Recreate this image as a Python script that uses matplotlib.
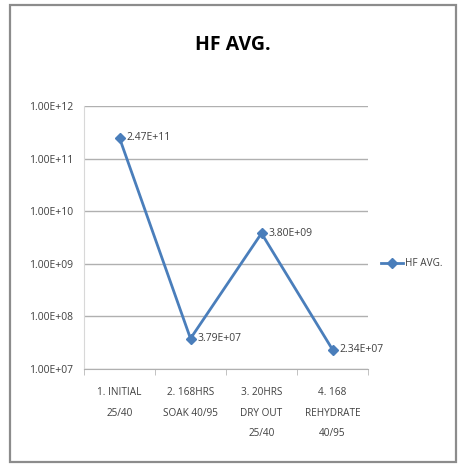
import matplotlib.pyplot as plt
from matplotlib.patches import Rectangle
from matplotlib.ticker import FixedLocator, NullLocator

# HF average per test stage
stages = ["1. INITIAL\n25/40", "2. 168HRS\nSOAK 40/95", "3. 20HRS\nDRY OUT\n25/40", "4. 168\nREHYDRATE\n40/95"]
hf_avg = [2.47e11, 3.79e7, 3.80e9, 2.34e7]
y_ticks = [1e7, 1e8, 1e9, 1e10, 1e11, 1e12]
y_tick_labels = ["1.00E+07", "1.00E+08", "1.00E+09", "1.00E+10", "1.00E+11", "1.00E+12"]

plt.rcParams['font.family'] = ['Open Sans', 'DejaVu Sans']
line_color = '#4A7EBB'
text_color = '#404040'

fig = plt.figure(figsize=(4.66, 4.66), dpi=100)
fig.patch.set_facecolor('white')

# chart border
fig.patches.append(Rectangle((10 / 466, 1 - 462 / 466), 446 / 466, 457 / 466,
                             transform=fig.transFigure, fill=False,
                             edgecolor='#8c8c8c', linewidth=1.6))

ax = fig.add_axes([84 / 466, 1 - 369 / 466, 284 / 466, 263 / 466])
x = list(range(len(stages)))
ax.plot(x, hf_avg, color=line_color, linewidth=2, marker='D', markersize=5,
        label='HF AVG.')

for xi, v in zip(x, hf_avg):
    ax.annotate(f"{v:.2E}", (xi, v), xytext=(5, 0), textcoords='offset points',
                va='center', ha='left', fontsize=7.5, color=text_color)

ax.set_yscale('log')
ax.set_ylim(1e7, 1e12)
ax.yaxis.set_major_locator(FixedLocator(y_ticks))
ax.yaxis.set_minor_locator(NullLocator())
ax.set_yticks(y_ticks)
ax.set_yticklabels(y_tick_labels, fontsize=7.5, color=text_color)
ax.tick_params(axis='y', length=0, pad=8)

ax.set_xlim(-0.5, len(stages) - 0.5)
ax.set_xticks(x)
ax.set_xticklabels(stages, fontsize=7.2, color=text_color, linespacing=2.2)
ax.tick_params(axis='x', length=0, pad=13)
ax.set_xticks([i + 0.5 for i in range(-1, len(stages))], minor=True)
ax.tick_params(axis='x', which='minor', length=4, color='#b8b8b8', direction='out')

ax.grid(axis='y', color='#b0b0b0', linewidth=1)
for side in ['top', 'right']:
    ax.spines[side].set_visible(False)
ax.spines['left'].set_color('#d8d8d8')
ax.spines['bottom'].set_color('#b0b0b0')

fig.text(0.5, 1 - 45 / 466, 'HF AVG.', ha='center', va='center',
         fontsize=14, fontweight='bold', color='black')

fig.legend(loc='center left', bbox_to_anchor=(372 / 466, 1 - 264 / 466),
           frameon=False, fontsize=7.2, handlelength=2.2, handletextpad=0.2,
           labelcolor=text_color)

fig.savefig('out.png', dpi=100)
